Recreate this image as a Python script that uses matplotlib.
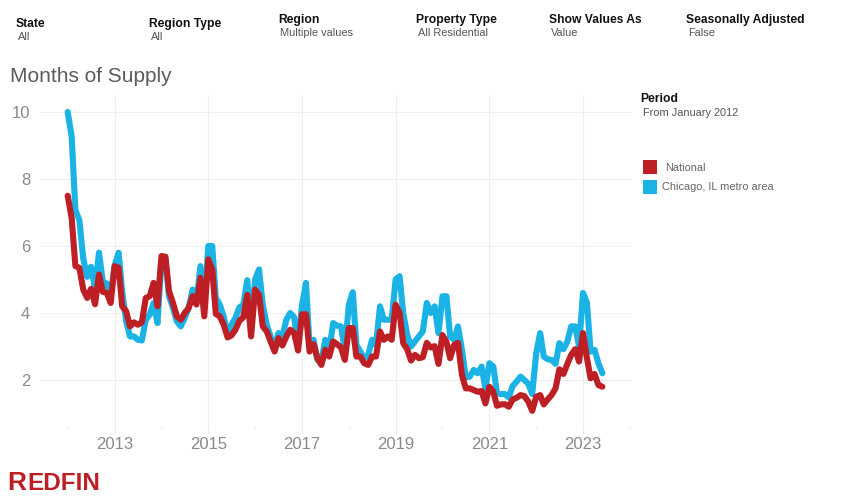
import pandas as pd
from matplotlib import pyplot as plt
from matplotlib.patches import Rectangle

plt.rcParams['font.family'] = ['Liberation Sans', 'DejaVu Sans']

W, H = 849, 499

# monthly values, Jan 2012 to Jun 2023
national = [
    7.5, 6.83, 5.4, 5.35, 4.7, 4.45, 4.72, 4.26, 5.15, 4.63, 4.6, 4.3,
    5.4, 5.35, 4.2, 4.05, 3.6, 3.72, 3.65, 3.72, 4.45, 4.5, 4.9, 4.2,
    5.7, 5.68, 4.65, 4.3, 3.9, 3.8, 4.0, 4.15, 4.5, 4.25, 5.05, 3.9,
    5.6, 5.3, 3.97, 3.9, 3.65, 3.27, 3.33, 3.5, 3.77, 3.87, 4.54, 3.3,
    4.7, 4.54, 3.6, 3.45, 3.15, 2.85, 3.25, 3.03, 3.3, 3.5, 3.4, 2.88,
    3.96, 3.96, 2.85, 3.07, 2.65, 2.45, 2.9, 2.7, 3.15, 3.07, 2.97, 2.6,
    3.55, 3.55, 2.7, 2.7, 2.5, 2.45, 2.7, 2.7, 3.45, 3.2, 3.3, 3.2,
    4.25, 4.0, 3.1, 2.92, 2.58, 2.75, 2.65, 2.68, 3.11, 2.97, 3.01, 2.48,
    3.34, 3.14, 2.65, 3.05, 3.11, 2.15, 1.75, 1.75, 1.7, 1.65, 1.67, 1.3,
    1.8, 1.65, 1.23, 1.27, 1.28, 1.2, 1.42, 1.47, 1.55, 1.52, 1.35, 1.08,
    1.5, 1.55, 1.27, 1.42, 1.55, 1.75, 2.32, 2.18, 2.48, 2.75, 2.92, 2.55,
    3.4, 2.65, 2.05, 2.18, 1.85, 1.8,
]
chicago = [
    10.0, 9.26, 7.07, 6.77, 5.63, 5.08, 5.38, 4.73, 5.8, 4.93, 4.88, 4.53,
    5.42, 5.8, 4.63, 3.75, 3.3, 3.3, 3.2, 3.18, 3.8, 3.95, 4.3, 3.7,
    5.55, 5.6, 4.5, 4.15, 3.75, 3.6, 3.85, 4.15, 4.7, 4.35, 5.4, 4.15,
    6.0, 6.0, 4.45, 4.25, 3.9, 3.35, 3.65, 3.85, 4.17, 4.24, 4.98, 3.6,
    5.0, 5.3, 4.24, 3.65, 3.3, 2.95, 3.4, 3.3, 3.8, 4.0, 3.87, 3.0,
    4.24, 4.9, 3.0, 3.2, 2.6, 2.55, 3.2, 2.9, 3.7, 3.62, 3.6, 2.9,
    4.24, 4.62, 3.05, 2.85, 2.65, 2.75, 3.2, 3.05, 4.2, 3.8, 3.8, 3.8,
    5.0, 5.1, 4.0, 3.35, 3.0, 3.15, 3.3, 3.45, 4.3, 4.0, 4.2, 3.4,
    4.5, 4.5, 3.3, 3.2, 3.6, 2.9, 2.08, 2.1, 2.3, 2.2, 2.4, 1.75,
    2.5, 2.4, 1.6, 1.58, 1.58, 1.48, 1.82, 1.95, 2.1, 2.0, 1.88, 1.58,
    2.8, 3.4, 2.7, 2.62, 2.6, 2.48, 3.1, 2.92, 3.15, 3.6, 3.6, 3.0,
    4.6, 4.3, 2.85, 2.9, 2.5, 2.2,
]
months = pd.date_range('2012-01-01', periods=len(national), freq='MS')

year_labels = ['2013', '2015', '2017', '2019', '2021', '2023']
minor_years = ['2012', '2014', '2016', '2018', '2020', '2022', '2024']
y_ticks = [2, 4, 6, 8, 10]

filter_names = ['State', 'Region Type', 'Region', 'Property Type', 'Show Values As', 'Seasonally Adjusted']
filter_values = ['All', 'All', 'Multiple values', 'All Residential', 'Value', 'False']
legend_names = ['National', 'Chicago, IL metro area']

RED = '#bd1f24'
BLUE = '#1bb3e6'


def px_text(x, y, s, **kw):
    # place text using pixel coordinates of the picture
    kw.setdefault('va', 'center')
    fig.text(x / W, 1 - y / H, s, **kw)


fig = plt.figure(figsize=(W / 100, H / 100), dpi=100)
ax = fig.add_axes([40 / W, 1 - 427 / H, (632 - 40) / W, (427 - 95) / H])

ax.plot(months, chicago, color=BLUE, lw=4.4, solid_joinstyle='round', solid_capstyle='round')
ax.plot(months, national, color=RED, lw=4.4, solid_joinstyle='round', solid_capstyle='round')

ax.set_xlim(pd.Timestamp('2011-05-30'), pd.Timestamp('2024-01-18'))
ax.set_ylim(0.597, 10.507)
ax.set_xticks([pd.Timestamp(y + '-01-01') for y in year_labels])
ax.set_xticklabels(year_labels)
ax.set_xticks([pd.Timestamp(y + '-01-01') for y in minor_years], minor=True)
ax.set_yticks(y_ticks)

ax.grid(True, which='major', color='#efefef', lw=0.8)
ax.set_axisbelow(True)
for s in ax.spines.values():
    s.set_visible(False)
ax.tick_params(axis='x', which='major', length=5, width=0.8, color='#e8e8e8', labelsize=12, labelcolor='#8a8a8a', pad=2)
ax.tick_params(axis='x', which='minor', length=1.5, width=0.8, color='#e8e8e8')
ax.tick_params(axis='y', length=0, labelsize=12, labelcolor='#8a8a8a', pad=7)

# filter strip along the top
name_pos = [(16, 24), (149, 24), (278, 20), (416, 20), (549, 20), (686, 20)]
value_pos = [(18, 37.5), (151, 37.5), (280, 33.5), (418, 33.5), (551, 33.5), (688, 33.5)]
for name, value, np_, vp in zip(filter_names, filter_values, name_pos, value_pos):
    px_text(np_[0], np_[1], name, fontsize=8.7, fontweight='bold', color='#111111')
    px_text(vp[0], vp[1], value, fontsize=7.9, color='#555555')

px_text(10, 76, 'Months of Supply', fontsize=15, color='#5c5c5c')

px_text(640, 99.5, 'Period', fontsize=8.7, fontweight='bold', color='#111111')
px_text(643, 112.5, 'From January 2012', fontsize=7.9, color='#555555')

# legend
fig.add_artist(Rectangle((643 / W, 1 - 174 / H), 14 / W, 14 / H, transform=fig.transFigure, color=RED, lw=0))
fig.add_artist(Rectangle((643 / W, 1 - 194 / H), 14 / W, 14 / H, transform=fig.transFigure, color=BLUE, lw=0))
px_text(665, 167.5, legend_names[0], fontsize=7.9, color='#666666')
px_text(662, 187.5, legend_names[1], fontsize=7.9, color='#666666')

# wordmark
px_text(7, 490, 'R', fontsize=19, fontweight='bold', color=RED, va='baseline')
px_text(27.5, 490, 'EDFIN', fontsize=17.5, fontweight='bold', color=RED, va='baseline')

fig.savefig('out.png', dpi=100)
